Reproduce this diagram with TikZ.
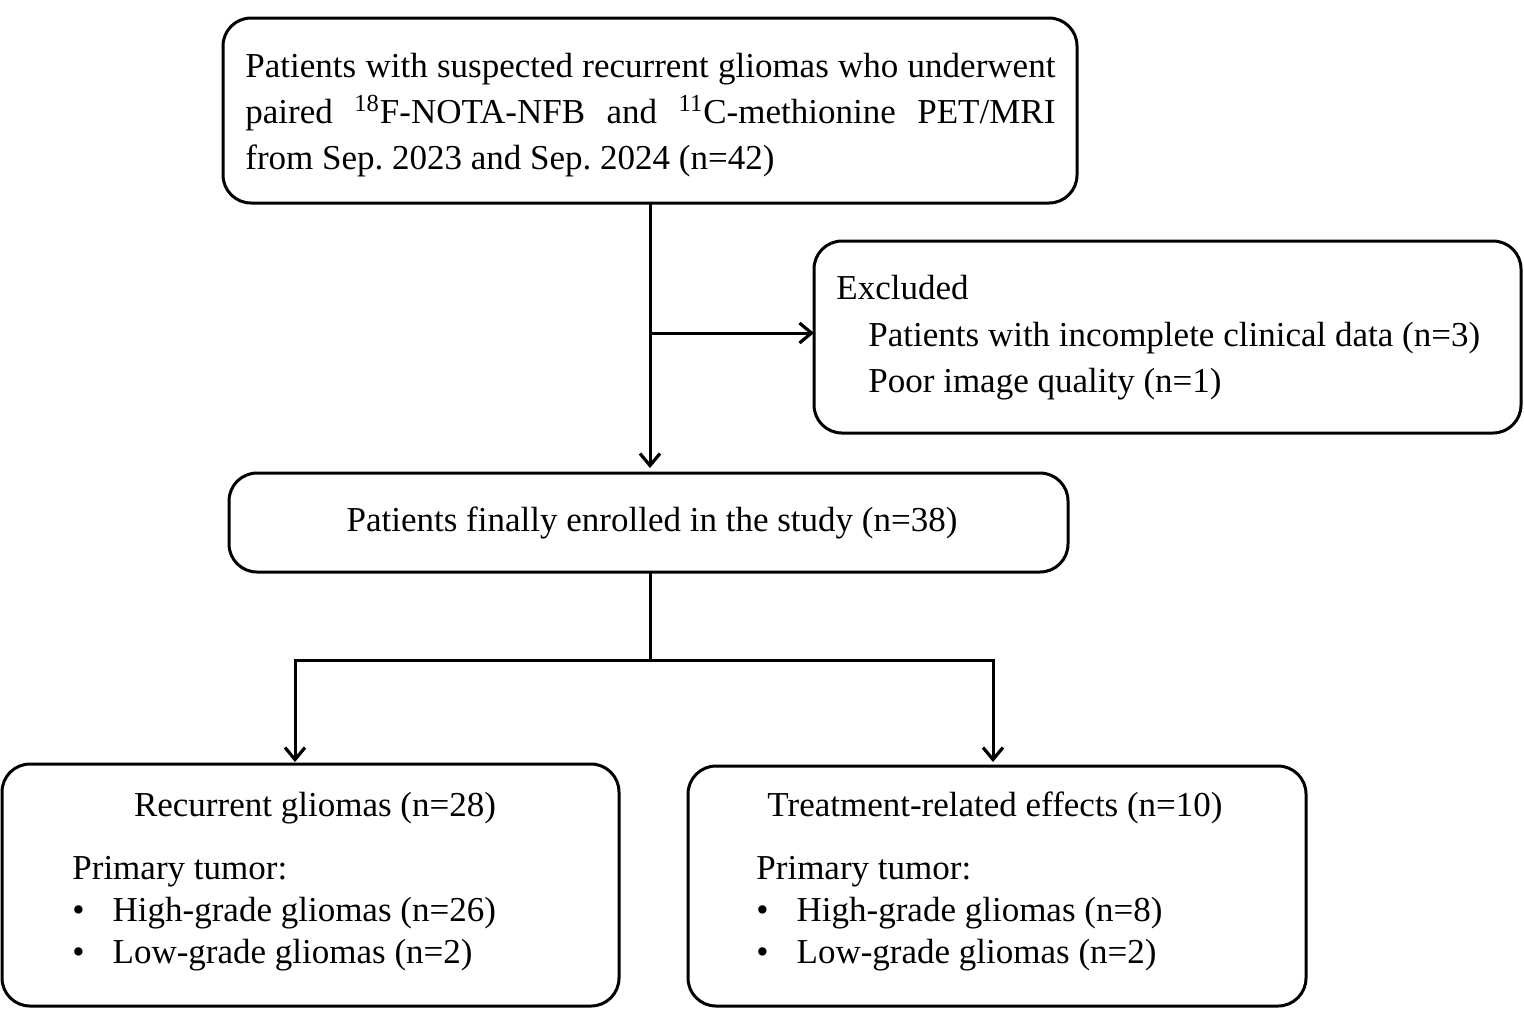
\documentclass[tikz,border=0pt]{standalone}
\usepackage{fontspec}
\setmainfont{Liberation Serif}
\usetikzlibrary{arrows.meta}
\begin{document}
\begin{tikzpicture}[x=0.5pt,y=-0.5pt,
  box/.style={draw,line width=1.5pt,rounded corners=14pt},
  conn/.style={line width=1.5pt},
  arr/.style={conn,-{Straight Barb[length=6pt,width=10pt,line width=1.6pt]}},
  txt/.style={font=\fontsize{17.5}{23}\selectfont\frenchspacing,inner sep=0pt}]
\useasboundingbox (0,0) rectangle (1524,1009);
\draw[box] (223,18) rectangle (1077,203);
\node[txt,text width=405pt,align=justify,anchor=north west] (t) at (245,53)
 {Patients with suspected recurrent gliomas who underwent paired \textsuperscript{18}F-NOTA-NFB and \textsuperscript{11}C-methionine PET/MRI\linebreak from Sep. 2023 and Sep. 2024 (n=42)};
\draw[box] (814,241) rectangle (1521,433);
\node[txt,anchor=base west] at (836,299) {Excluded};
\node[txt,anchor=base west] at (868,346) {Patients with incomplete clinical data (n=3)};
\node[txt,anchor=base west] at (868,392) {Poor image quality (n=1)};
\draw[box] (229,473) rectangle (1068,572);
\node[txt] at (652,523) {Patients finally enrolled in the study (n=38)};
\draw[box] (2,764) rectangle (619,1006);
\node[txt] at (315,808) {Recurrent gliomas (n=28)};
\node[txt,anchor=base west] at (72,879) {Primary tumor:};
\node[txt,anchor=base west] at (72,921) {\textbullet\hspace{14pt}High-grade gliomas (n=26)};
\node[txt,anchor=base west] at (72,963) {\textbullet\hspace{14pt}Low-grade gliomas (n=2)};
\draw[box] (688,766) rectangle (1306,1006);
\node[txt] at (995,808) {Treatment-related effects (n=10)};
\node[txt,anchor=base west] at (756,879) {Primary tumor:};
\node[txt,anchor=base west] at (756,921) {\textbullet\hspace{14pt}High-grade gliomas (n=8)};
\node[txt,anchor=base west] at (756,963) {\textbullet\hspace{14pt}Low-grade gliomas (n=2)};
\coordinate (a) at (650,203); \coordinate (b) at (650,468);
\coordinate (c) at (650,333); \coordinate (d) at (814,333);
\draw[arr] (a) -- (b);
\draw[arr] (c) -- (d);
\coordinate (e) at (650,572); \coordinate (f) at (650,660);
\draw[conn] (e) -- (f);
\draw[arr] (f) -- (295,660) -- (295,762);
\draw[arr] (f) -- (993,660) -- (993,762);
\end{tikzpicture}
\end{document}
